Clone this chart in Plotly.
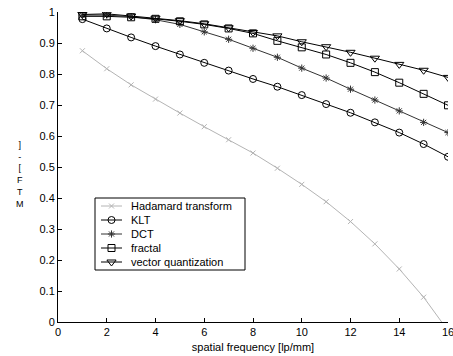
import plotly.graph_objects as go

freq = list(range(1, 17))
hadamard = [0.875, 0.817, 0.765, 0.719, 0.674, 0.630, 0.588, 0.545, 0.496, 0.444, 0.388, 0.324, 0.252, 0.171, 0.080, -0.028]
klt = [0.977, 0.947, 0.918, 0.890, 0.863, 0.836, 0.811, 0.784, 0.759, 0.732, 0.703, 0.675, 0.644, 0.611, 0.574, 0.533]
dct = [0.990, 0.990, 0.985, 0.975, 0.960, 0.936, 0.912, 0.883, 0.854, 0.819, 0.787, 0.751, 0.716, 0.681, 0.644, 0.611]
fractal = [0.986, 0.986, 0.983, 0.978, 0.970, 0.960, 0.947, 0.931, 0.907, 0.886, 0.863, 0.836, 0.806, 0.772, 0.736, 0.699]
vq = [0.992, 0.994, 0.987, 0.980, 0.972, 0.962, 0.949, 0.934, 0.923, 0.904, 0.888, 0.870, 0.851, 0.831, 0.812, 0.789]

names = ["Hadamard transform", "KLT", "DCT", "fractal", "vector quantization"]
series = [hadamard, klt, dct, fractal, vq]
symbols = ["x-thin-open", "circle-open", "asterisk-open", "square-open", "triangle-down-open"]
colors = ["#b4b4b4", "#000000", "#333333", "#000000", "#000000"]
msizes = [5, 7, 6, 7, 8]

# plot area in pixels
PL, PR, PT, PB = 58, 448, 12, 322
PW, PH = PR - PL, PB - PT

fig = go.Figure()
for n, s, sym, c, ms in zip(names, series, symbols, colors, msizes):
    fig.add_trace(go.Scatter(
        x=freq, y=s, name=n, mode="lines+markers", showlegend=False,
        line=dict(color=c, width=1),
        marker=dict(symbol=sym, size=ms, color=c, line=dict(color=c, width=1)),
    ))

font = dict(family="Liberation Sans, Arial, sans-serif", size=11, color="black")

# custom compact legend (MATLAB style) on a hidden pixel-scaled overlay axis
LEG_X0, LEG_X1, LEG_Y0, LEG_Y1 = 37, 187, 186, 258
row_y0, row_dy = 194, 14
for i, (n, sym, c, ms) in enumerate(zip(names, symbols, colors, msizes)):
    ry = row_y0 + i * row_dy
    fig.add_trace(go.Scatter(
        x=[43, 64], y=[ry, ry], mode="lines", xaxis="x2", yaxis="y2", showlegend=False,
        line=dict(color=c, width=1), hoverinfo="skip"))
    fig.add_trace(go.Scatter(
        x=[53.5], y=[ry], mode="markers", xaxis="x2", yaxis="y2", showlegend=False,
        marker=dict(symbol=sym, size=ms, color=c, line=dict(color=c, width=1)), hoverinfo="skip"))
    fig.add_annotation(text=n, xref="x2", yref="y2", x=71, y=ry, showarrow=False,
                       xanchor="left", yanchor="middle", font=font)
fig.add_shape(type="rect", xref="x2", yref="y2", x0=LEG_X0, x1=LEG_X1, y0=LEG_Y0, y1=LEG_Y1,
              line=dict(color="black", width=1), fillcolor="white", layer="below")

fig.update_layout(
    width=453, height=356,
    margin=dict(l=PL, r=453 - PR, t=PT, b=356 - PB, autoexpand=False),
    paper_bgcolor="white", plot_bgcolor="white",
    font=font,
    showlegend=False,
    xaxis=dict(range=[0, 16], tickvals=list(range(0, 17, 2)), showline=True, linecolor="black",
               linewidth=1, ticks="inside", ticklen=4, tickcolor="black", showgrid=False,
               zeroline=False, mirror=False, ticklabeloverflow="allow", automargin=False,
               title=dict(text="spatial frequency [lp/mm]", standoff=6, font=font)),
    yaxis=dict(range=[0, 1], tickvals=[i / 10 for i in range(11)],
               ticktext=["0", "0.1", "0.2", "0.3", "0.4", "0.5", "0.6", "0.7", "0.8", "0.9", "1"],
               showline=True, linecolor="black", linewidth=1, ticks="inside", ticklen=4,
               tickcolor="black", showgrid=False, zeroline=False, mirror=False, automargin=False),
    xaxis2=dict(range=[0, PW], overlaying="x", visible=False, fixedrange=True),
    yaxis2=dict(range=[PH, 0], overlaying="y", visible=False, fixedrange=True),
)

fig.add_annotation(text="]<br>-<br>[<br>F<br>T<br>M", xref="paper", yref="paper",
                   x=(20 - PL) / PW, y=(PB - 174) / PH, showarrow=False,
                   font=dict(family="Liberation Sans, Arial, sans-serif", size=9, color="black"),
                   xanchor="center", yanchor="middle")

fig.write_html("out.html")
